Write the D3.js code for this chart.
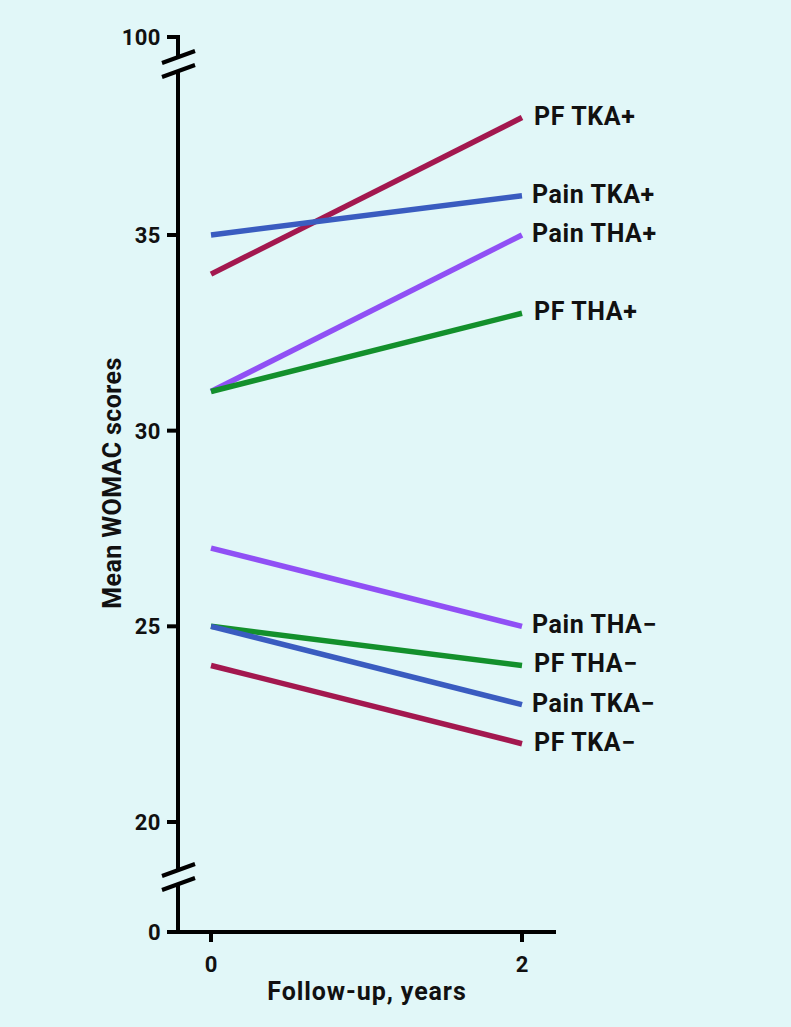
<!DOCTYPE html>
<html><head><meta charset="utf-8">
<script src="https://cdn.jsdelivr.net/npm/d3@7"></script>
<style>
html,body{margin:0;padding:0;background:#e1f7f8;}
svg{display:block;}
text{font-family:Roboto,"DejaVu Sans",sans-serif;font-weight:700;fill:#111;}
</style></head>
<body>
<svg id="c" width="791" height="1027"></svg>
<script>
const years = [0, 2];
const seriesNames = ["PF TKA+","Pain TKA+","Pain THA+","PF THA+","Pain THA\u2212","PF THA\u2212","Pain TKA\u2212","PF TKA\u2212"];
const seriesValues = [[34,38],[35,36],[31,35],[31,33],[27,25],[25,24],[25,23],[24,22]];
const seriesColors = ["#a3184f","#3a5cc0","#9050f5","#13902c","#9050f5","#13902c","#3a5cc0","#a3184f"];
const yTicks = [0,20,25,30,35,100];

const svg = d3.select("#c");
svg.append("rect").attr("width",791).attr("height",1027).attr("fill","#e1f7f8");

const x = d3.scaleLinear().domain([0,2]).range([211,522]);
const y = d3.scaleLinear().domain([0,20,40,100]).range([932,822,39.3,37]);
const axX = 178;

const g = svg.append("g");
const lw = 4;
const yTop = y(100), yBot = y(0);
const topBreak = yTop + 27, botBreak = y(10);
const segs = [[yTop-2, topBreak-7],[topBreak+7, botBreak-6],[botBreak+6, yBot]];
segs.forEach(s=>g.append("line").attr("x1",axX).attr("x2",axX).attr("y1",s[0]).attr("y2",s[1])
  .attr("stroke","#000").attr("stroke-width",lw));
[topBreak, botBreak].forEach(c=>{
  [-7,7].forEach(o=>{
    g.append("line").attr("x1",axX-16).attr("x2",axX+17)
      .attr("y1",c+o+6).attr("y2",c+o-6)
      .attr("stroke","#000").attr("stroke-width",lw);
  });
});
yTicks.forEach(t=>{
  g.append("line").attr("x1",axX-11).attr("x2",axX).attr("y1",y(t)).attr("y2",y(t))
    .attr("stroke","#000").attr("stroke-width",lw);
  g.append("text").attr("x",axX-17).attr("y",y(t)).attr("dy","0.36em")
    .attr("text-anchor","end").attr("font-size",22).attr("letter-spacing",0.5).text(t);
});
g.append("line").attr("x1",168).attr("x2",556).attr("y1",yBot).attr("y2",yBot)
  .attr("stroke","#000").attr("stroke-width",lw);
years.forEach(t=>{
  g.append("line").attr("x1",x(t)).attr("x2",x(t)).attr("y1",yBot).attr("y2",yBot+10)
    .attr("stroke","#000").attr("stroke-width",lw);
  g.append("text").attr("x",x(t)).attr("y",yBot+40).attr("text-anchor","middle")
    .attr("font-size",22).text(t);
});
svg.append("text").attr("x",367).attr("y",1000).attr("text-anchor","middle")
  .attr("font-size",25).attr("letter-spacing",0.9).text("Follow-up, years");
svg.append("text").attr("transform","translate(121,483) rotate(-90)")
  .attr("text-anchor","middle").attr("font-size",25).attr("letter-spacing",0.4).text("Mean WOMAC scores");

const line = d3.line().x((d,i)=>x(years[i])).y(d=>y(d));
seriesValues.forEach((v,i)=>{
  svg.append("path").attr("d",line(v)).attr("fill","none")
    .attr("stroke",seriesColors[i]).attr("stroke-width",5.5);
  svg.append("text").attr("x",x(2)+(seriesNames[i].startsWith("PF")?12:10)).attr("y",y(v[1])-2)
    .attr("dy","0.36em").attr("font-size",25).attr("letter-spacing",0.6).text(seriesNames[i]);
});
</script>
</body></html>
